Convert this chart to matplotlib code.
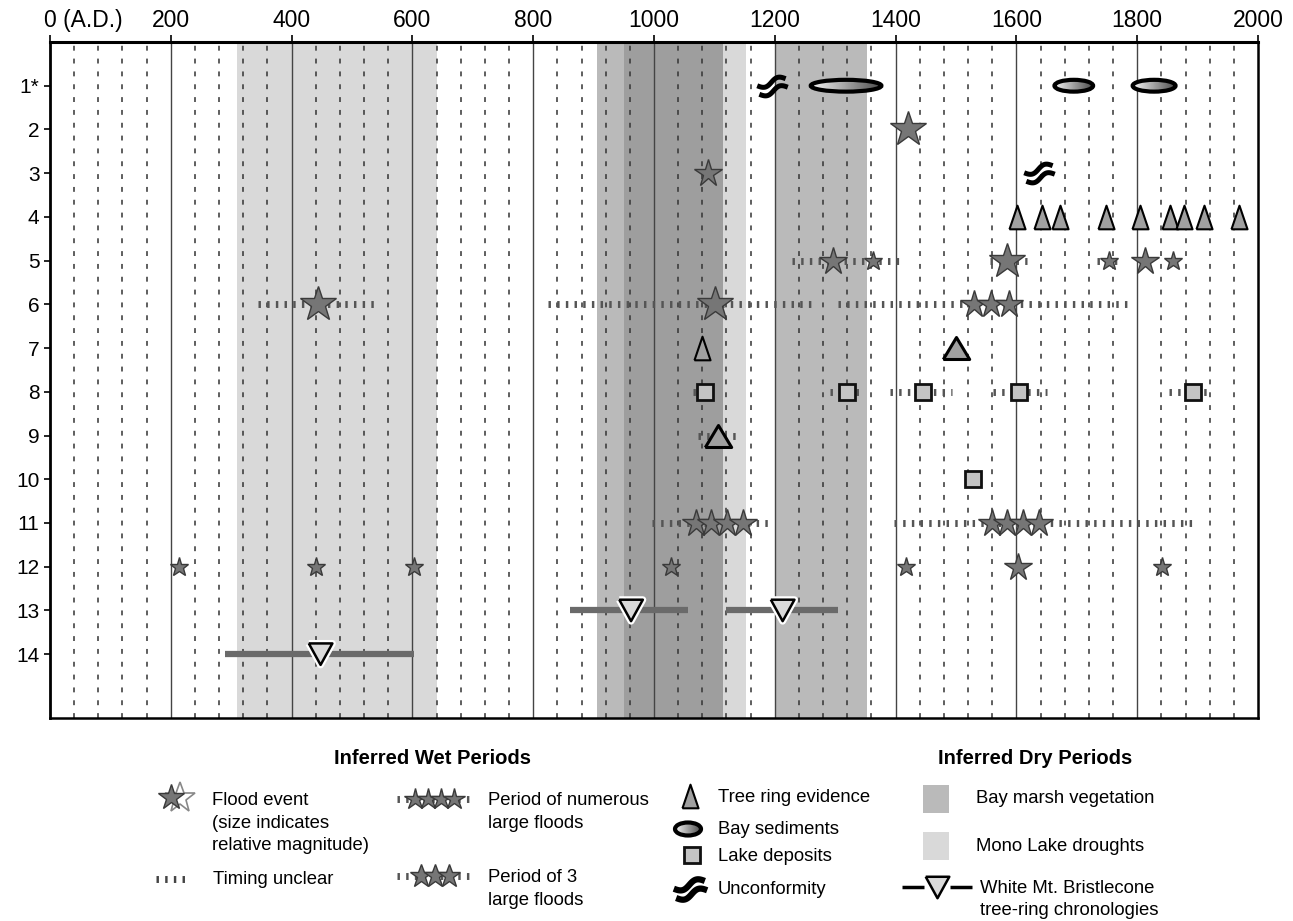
import numpy as np
import matplotlib.pyplot as plt
import matplotlib.patheffects as pe
from matplotlib.path import Path
from matplotlib.patches import Ellipse, Rectangle
from matplotlib.colors import LinearSegmentedColormap

plt.rcParams['font.family'] = ['Liberation Sans', 'DejaVu Sans']

W, H = 1293, 921

# axis labels
row_labels = ['1*'] + [str(i) for i in range(2, 15)]
year_ticks = list(range(0, 2001, 200))
year_labels = ['0 (A.D.)'] + [str(y) for y in year_ticks[1:]]

# inferred dry periods (years A.D.)
bay_marsh = [(906, 1115), (1200, 1353)]
mono_lake = [(310, 640), (951, 1152)]

# flood events: record row, year, relative magnitude (1 small .. 3 large)
flood_rows = [2, 3,
              5, 5, 5, 5, 5, 5,
              6, 6, 6, 6, 6,
              11, 11, 11, 11, 11, 11, 11, 11,
              12, 12, 12, 12, 12, 12, 12]
flood_years = [1421, 1089,
               1297, 1362, 1585, 1754, 1813, 1860,
               443, 1101, 1529, 1558, 1587,
               1069, 1095, 1121, 1147, 1560, 1585, 1611, 1638,
               213, 440, 603, 1028, 1418, 1603, 1841]
flood_mags = [3, 2,
              2, 1, 3, 1, 2, 1,
              3, 3, 2, 2, 2,
              2, 2, 2, 2, 2, 2, 2, 2,
              1, 1, 1, 1, 1, 2, 1]

# timing unclear ranges
unclear_rows = [5, 5, 5, 6, 6, 6, 8, 8, 8, 8, 8, 9, 11, 11]
unclear_start = [1228, 1557, 1733, 345, 825, 1305, 1065, 1291, 1391, 1562, 1853, 1073, 997, 1398]
unclear_end = [1410, 1617, 1772, 545, 1270, 1790, 1104, 1343, 1494, 1650, 1920, 1143, 1197, 1891]

# tree ring evidence (wide = strong signal)
tree_rows = [4, 4, 4, 4, 4, 4, 4, 4, 4, 7, 7, 9]
tree_years = [1601, 1643, 1672, 1749, 1805, 1855, 1878, 1911, 1969, 1079, 1500, 1106]
tree_wide = [False] * 9 + [False, True, True]

# bay sediments (row 1): centre year and duration
sed_years = [1318, 1695, 1828]
sed_spans = [117, 64, 71]

# lake deposits
lake_rows = [8, 8, 8, 8, 8, 10]
lake_years = [1085, 1320, 1446, 1605, 1892, 1528]

# unconformities
unc_rows = [1, 3]
unc_years = [1196, 1638]

# White Mt. bristlecone chronologies
wm_rows = [13, 13, 14]
wm_years = [962, 1213, 448]
wm_start = [861, 1120, 289]
wm_end = [1056, 1305, 602]

# ---- marker shapes ----
tri_narrow = [(-0.34, -0.5), (0.34, -0.5), (0, 0.5), (-0.34, -0.5)]
tri_wide = [(-0.6, -0.5), (0.6, -0.5), (0, 0.5), (-0.6, -0.5)]
tri_down = [(-0.55, 0.5), (0.55, 0.5), (0, -0.5), (-0.55, 0.5)]

t = np.linspace(-1, 1, 30)
wave = 0.22 * np.sin(np.pi * t)
ang = np.deg2rad(14)
verts, codes = [], []
for off in (0.3, -0.3):
    xs, ys = t, wave + off
    xr = xs * np.cos(ang) - ys * np.sin(ang)
    yr = xs * np.sin(ang) + ys * np.cos(ang)
    verts += list(zip(xr, yr))
    codes += [Path.MOVETO] + [Path.LINETO] * (len(t) - 1)
squiggle = Path(verts, codes)

shade = LinearSegmentedColormap.from_list('shade', ['#f4f4f4', '#4e4e4e'])
star_ms = {1: 14, 2: 20.5, 3: 26.5}


def grad_ellipse(axis, x, y, w, h, lw):
    e = Ellipse((x, y), w, h, fc='none', ec='k', lw=lw, zorder=5)
    axis.add_patch(e)
    im = axis.imshow(np.linspace(0, 1, 64)[None, :], cmap=shade,
                     extent=(x - w / 2, x + w / 2, y + h / 2, y - h / 2),
                     aspect='auto', zorder=4.5, interpolation='bilinear')
    im.set_clip_path(e)


def star(axis, x, y, ms, z=4):
    axis.plot(x, y, marker='*', ms=ms, mfc='#767676', mec='#3a3a3a', mew=1, zorder=z)


def unclear(axis, x0, x1, y, c='#555555'):
    axis.plot([x0, x1], [y, y], color=c, lw=5, dashes=(0.35, 0.9),
              dash_capstyle='butt', zorder=2)


fig = plt.figure(figsize=(W / 100, H / 100), dpi=100)
ax = fig.add_axes([50 / W, 1 - 718 / H, (1258 - 50) / W, (718 - 42) / H])

# dry period bands
for s, e in bay_marsh:
    ax.axvspan(s, e, color='k', alpha=0.27, lw=0, zorder=0)
for s, e in mono_lake:
    ax.axvspan(s, e, color='k', alpha=0.15, lw=0, zorder=0)

# 40-year grid, solid every 200
for yr in range(40, 2000, 40):
    if yr % 200:
        ax.axvline(yr, color='#333333', lw=1.1, ls=(0, (3.2, 5.2)), zorder=1)
    else:
        ax.axvline(yr, color='#444444', lw=1.0, zorder=1)

for r, s, e in zip(unclear_rows, unclear_start, unclear_end):
    unclear(ax, s, e, r)

for r, x, m in zip(flood_rows, flood_years, flood_mags):
    star(ax, x, r, star_ms[m])

for r, x, wide in zip(tree_rows, tree_years, tree_wide):
    ax.plot(x, r, marker=tri_wide if wide else tri_narrow, ms=19 if wide else 17,
            mfc='#a0a0a0', mec='k', mew=2.2 if wide else 1.5, zorder=4)

for x, w in zip(sed_years, sed_spans):
    grad_ellipse(ax, x, 1, w, 0.27, 3)

for r, x in zip(lake_rows, lake_years):
    ax.plot(x, r, marker='s', ms=11, mfc='#c4c4c4', mec='#111111', mew=2, zorder=4)

for r, x in zip(unc_rows, unc_years):
    ax.plot(x, r, marker=squiggle, ms=22, mfc='none', mec='k', mew=3.6, zorder=4)

for r, x, s, e in zip(wm_rows, wm_years, wm_start, wm_end):
    ax.plot([s, e], [r, r], color='#6a6a6a', lw=4.5, solid_capstyle='butt', zorder=3)
    ax.plot(x, r, marker=tri_down, ms=17, mfc='#dadada', mec='k', mew=1.8, zorder=4,
            path_effects=[pe.withStroke(linewidth=5, foreground='white')])

ax.set_xlim(0, 2000)
ax.set_ylim(15.46, 0)
ax.xaxis.tick_top()
ax.set_xticks(year_ticks)
ax.set_xticklabels([''] + year_labels[1:])
ax.annotate(year_labels[0], xy=(0, 1), xycoords=('data', 'axes fraction'),
            xytext=(-4.6, 7.5), textcoords='offset points', ha='left', va='bottom',
            fontsize=16.5)
ax.set_yticks(range(1, 15))
ax.set_yticklabels(row_labels)
ax.tick_params(axis='x', length=5, width=1.2, pad=2.5, labelsize=16.5)
ax.tick_params(axis='y', length=4.5, width=1.2, pad=3, labelsize=15)
for side, lw in [('top', 2.2), ('left', 2.0), ('right', 1.8), ('bottom', 1.8)]:
    ax.spines[side].set_linewidth(lw)

# ---- legend, laid out in pixel coordinates ----
lg = fig.add_axes([0, 0, 1, 1])
lg.set_xlim(0, W)
lg.set_ylim(H, 0)
lg.axis('off')
lg.set_zorder(-1)

fs = 13.3
ls = 1.43
top = 7  # first-line centre sits this far below the text top


def note(x, y, s, spacing=ls):
    lg.text(x, y - top, s, fontsize=fs, ha='left', va='top', linespacing=spacing)


lg.text(433, 758, 'Inferred Wet Periods', fontsize=14.5, fontweight='bold', ha='center', va='center')
lg.text(1035, 758, 'Inferred Dry Periods', fontsize=14.5, fontweight='bold', ha='center', va='center')

lg.plot(180, 798, marker='*', ms=23, mfc='white', mec='#888888', mew=1.2, zorder=3)
star(lg, 171, 797, 19)
note(212, 799, 'Flood event\n(size indicates\nrelative magnitude)')
unclear(lg, 156, 188, 879, c='#444444')
lg.text(213, 879, 'Timing unclear', fontsize=fs, ha='left', va='center')

unclear(lg, 397, 474, 799, c='#555555')
for x in (415, 428, 441, 454):
    star(lg, x, 799, 16)
note(488, 799, 'Period of numerous\nlarge floods')
unclear(lg, 397, 474, 876, c='#555555')
for x in (421, 435, 449):
    star(lg, x, 876, 17)
note(488, 876, 'Period of 3\nlarge floods')

lg.plot(690, 796, marker=tri_narrow, ms=17, mfc='#a0a0a0', mec='k', mew=1.5)
lg.text(718, 797, 'Tree ring evidence', fontsize=fs, ha='left', va='center')
grad_ellipse(lg, 688, 829, 26, 13, 3)
lg.text(718, 829, 'Bay sediments', fontsize=fs, ha='left', va='center')
lg.plot(692, 855, marker='s', ms=11, mfc='#c4c4c4', mec='#111111', mew=2)
lg.text(718, 856, 'Lake deposits', fontsize=fs, ha='left', va='center')
lg.plot(690, 889, marker=squiggle, ms=24, mfc='none', mec='k', mew=4.5)
lg.text(718, 889, 'Unconformity', fontsize=fs, ha='left', va='center')

lg.add_patch(Rectangle((923, 785), 26, 28, color='k', alpha=0.27, lw=0))
lg.text(976, 798, 'Bay marsh vegetation', fontsize=fs, ha='left', va='center')
lg.add_patch(Rectangle((923, 832), 26, 28, color='k', alpha=0.15, lw=0))
lg.text(976, 846, 'Mono Lake droughts', fontsize=fs, ha='left', va='center')
lg.plot([902, 924], [887, 887], color='k', lw=2.5, solid_capstyle='butt')
lg.plot([950, 972], [887, 887], color='k', lw=2.5, solid_capstyle='butt')
lg.plot(937, 887, marker=tri_down, ms=17, mfc='#dadada', mec='k', mew=1.8)
note(980, 887, 'White Mt. Bristlecone\ntree-ring chronologies', spacing=1.35)

fig.savefig('out.png', dpi=100)
